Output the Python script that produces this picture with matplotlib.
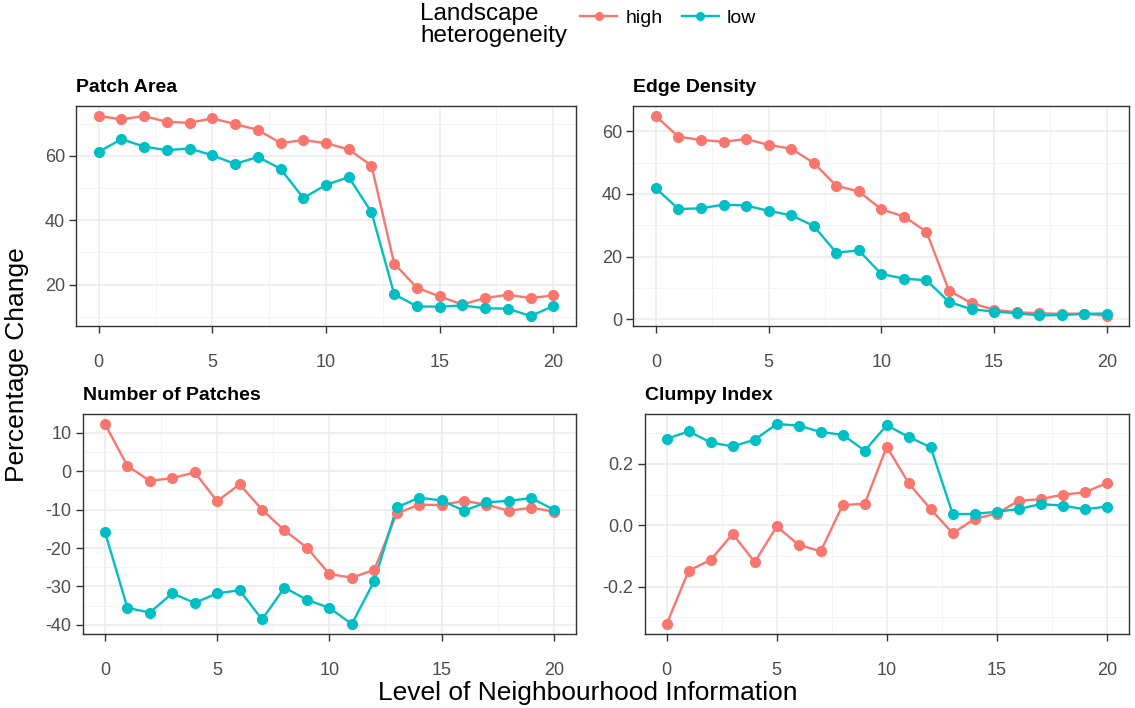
import matplotlib
matplotlib.use("Agg")
import matplotlib.pyplot as plt
from matplotlib.ticker import AutoMinorLocator, FixedLocator, FormatStrFormatter
from matplotlib.lines import Line2D

plt.rcParams['font.family'] = ['Liberation Sans', 'DejaVu Sans']
plt.rcParams['axes.unicode_minus'] = False

HIGH_COL = '#F8766D'
LOW_COL = '#00BFC4'

levels = list(range(21))

patch_area_high = [72.4, 71.4, 72.4, 70.6, 70.3, 71.7, 69.9, 68.1, 64.0, 64.9, 64.0,
                   62.0, 57.0, 26.5, 19.0, 16.3, 13.8, 15.8, 16.8, 15.8, 16.6]
patch_area_low = [61.3, 65.2, 62.9, 61.8, 62.3, 60.2, 57.5, 59.7, 56.0, 46.9, 51.0,
                  53.4, 42.5, 17.0, 13.2, 13.1, 13.5, 12.6, 12.5, 10.2, 13.3]

edge_density_high = [64.8, 58.2, 57.2, 56.6, 57.5, 55.6, 54.4, 49.9, 42.6, 40.8, 35.1,
                     32.8, 28.0, 9.2, 5.2, 3.1, 2.3, 2.0, 1.8, 1.9, 1.1]
edge_density_low = [41.8, 35.2, 35.4, 36.6, 36.3, 34.6, 33.2, 29.8, 21.3, 22.0, 14.5,
                    13.0, 12.5, 5.6, 3.3, 2.5, 2.0, 1.3, 1.4, 1.8, 1.9]

num_patches_high = [12.3, 1.4, -2.5, -1.8, -0.3, -7.8, -3.4, -10.0, -15.4, -19.9, -26.8,
                    -27.7, -25.7, -11.0, -8.7, -8.8, -7.7, -8.7, -10.3, -9.5, -10.5]
num_patches_low = [-15.8, -35.6, -36.8, -31.8, -34.3, -31.8, -31.0, -38.6, -30.3, -33.5, -35.6,
                   -39.8, -28.6, -9.4, -6.9, -7.6, -10.3, -8.1, -7.7, -7.0, -10.0]

clumpy_high = [-0.322, -0.148, -0.113, -0.028, -0.120, -0.004, -0.064, -0.085, 0.066, 0.070, 0.256,
               0.137, 0.052, -0.026, 0.021, 0.038, 0.080, 0.085, 0.100, 0.107, 0.138]
clumpy_low = [0.282, 0.306, 0.270, 0.257, 0.279, 0.330, 0.325, 0.304, 0.295, 0.243, 0.326,
              0.288, 0.254, 0.036, 0.037, 0.044, 0.053, 0.069, 0.064, 0.052, 0.061]

x_ticks = [0, 5, 10, 15, 20]

# (title, high, low, y ticks, tick format, axes rect in figure coords)
panels = [
    ("Patch Area", patch_area_high, patch_area_low, [20, 40, 60], '%d',
     [0.067, 0.5395, 0.4405, 0.3107]),
    ("Edge Density", edge_density_high, edge_density_low, [0, 20, 40, 60], '%d',
     [0.558, 0.5395, 0.437, 0.3107]),
    ("Number of Patches", num_patches_high, num_patches_low, [-40, -30, -20, -10, 0, 10], '%d',
     [0.0727, 0.1045, 0.435, 0.3107]),
    ("Clumpy Index", clumpy_high, clumpy_low, [-0.2, 0.0, 0.2], '%.1f',
     [0.568, 0.1045, 0.4265, 0.3107]),
]

fig = plt.figure(figsize=(11.35, 7.08), dpi=100)

for title, high, low, yticks, fmt, rect in panels:
    ax = fig.add_axes(rect)
    ax.plot(levels, high, color=HIGH_COL, lw=1.7, zorder=3)
    ax.plot(levels, low, color=LOW_COL, lw=1.7, zorder=3)
    ax.plot(levels, high, 'o', color=HIGH_COL, ms=7, zorder=4)
    ax.plot(levels, low, 'o', color=LOW_COL, ms=7, zorder=5)
    ax.margins(x=0.05, y=0.05)

    ax.xaxis.set_major_locator(FixedLocator(x_ticks))
    ax.yaxis.set_major_locator(FixedLocator(yticks))
    ax.yaxis.set_major_formatter(FormatStrFormatter(fmt))
    ax.xaxis.set_minor_locator(AutoMinorLocator(2))
    ax.yaxis.set_minor_locator(AutoMinorLocator(2))

    ax.grid(which='major', color='#EBEBEB', lw=1.1, zorder=0)
    ax.grid(which='minor', color='#F2F2F2', lw=0.6, zorder=0)
    ax.set_axisbelow(True)
    for sp in ax.spines.values():
        sp.set_color('#333333')
        sp.set_linewidth(1.0)

    ax.tick_params(which='major', length=5, width=1.0, color='#333333',
                   labelcolor='#4D4D4D', labelsize=13)
    ax.tick_params(axis='x', which='major', pad=15)
    ax.tick_params(axis='y', which='major', pad=3)
    ax.tick_params(which='minor', length=0)

    ax.set_title(title, loc='left', fontsize=14, fontweight='bold', pad=10)

fig.text(0.015, 0.485, "Percentage Change", rotation=90, fontsize=19,
         ha='center', va='center')
fig.text(0.518, 0.021, "Level of Neighbourhood Information", fontsize=19,
         ha='center', va='center')

# legend across the top
fig.text(0.370, 0.965, "Landscape\nheterogeneity", fontsize=17.5,
         ha='left', va='center', linespacing=1.0)
handles = [Line2D([], [], color=HIGH_COL, marker='o', ms=5.5, lw=1.7),
           Line2D([], [], color=LOW_COL, marker='o', ms=5.5, lw=1.7)]
fig.legend(handles, ["high", "low"], loc='center left', bbox_to_anchor=(0.496, 0.975),
           ncol=2, frameon=False, fontsize=14, handlelength=1.9,
           handletextpad=0.4, columnspacing=1.0)

fig.savefig("out.png", dpi=100)
